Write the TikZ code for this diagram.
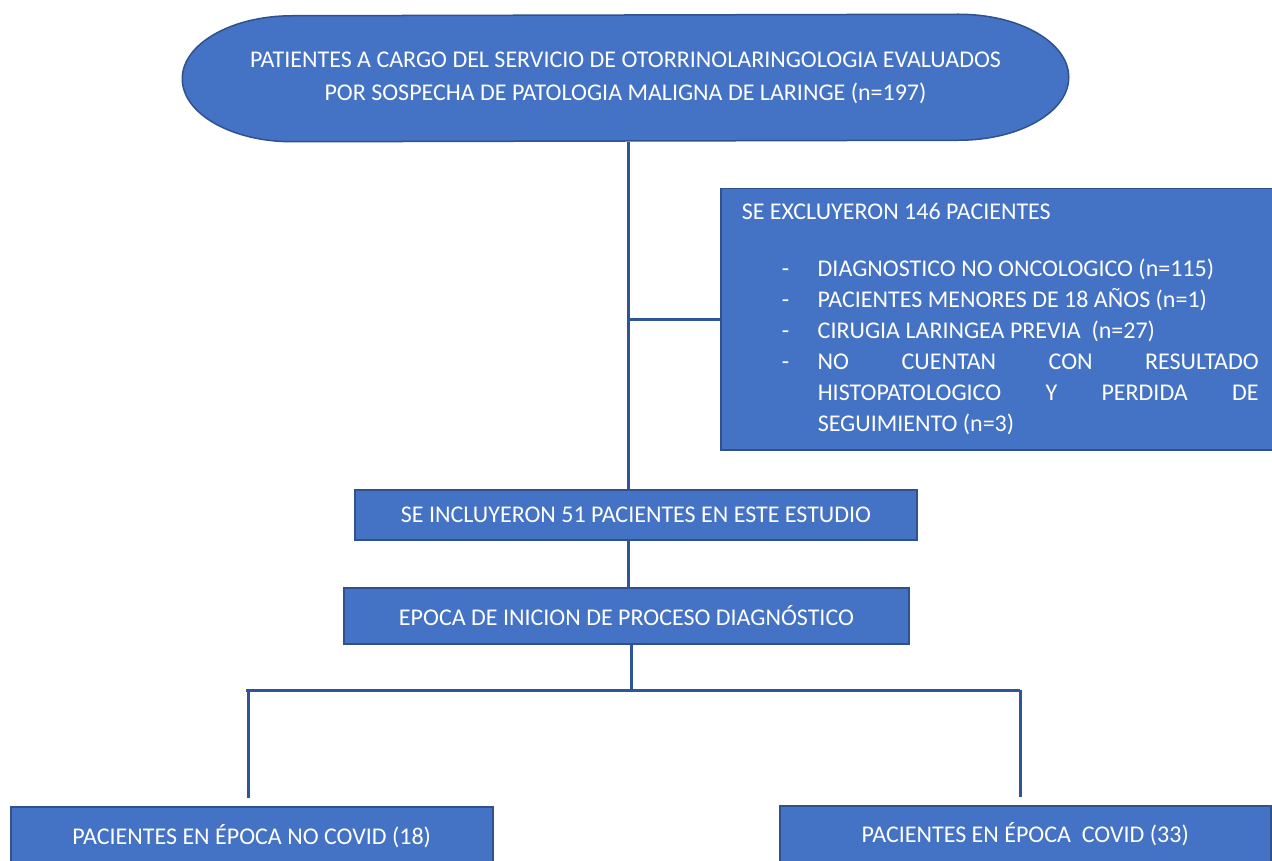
\documentclass[tikz,border=0pt]{standalone}
\usepackage{fontspec}
\setmainfont{Carlito}
\usetikzlibrary{positioning,backgrounds}

\definecolor{boxblue}{HTML}{4472C4}
\definecolor{boxline}{HTML}{2F528F}
\definecolor{linkblue}{HTML}{2F5597}

% one excluded reason, dash hanging in front
\newcommand\exitem[1]{\par\hangindent=76pt\hangafter=1\noindent\makebox[76pt][l]{\hspace{40pt}-}#1}

\begin{document}
\begin{tikzpicture}[x=1pt,y=-1pt,
  flow box/.style={rectangle,fill=boxblue,draw=boxline,line width=1.5pt,text=white,inner sep=0pt,
    font=\fontsize{24}{31}\selectfont},
  link/.style={draw=linkblue,line width=3pt}]
  \useasboundingbox (0,0) rectangle (1272,861);
  \clip (0,0) rectangle (1272,861);

  \node[flow box,draw=none,fill=none,minimum width=885pt,minimum height=126pt,align=center,
    font=\fontsize{24}{33}\selectfont] (start) at (625.5,78)
    {PATIENTES A CARGO DEL SERVICIO DE OTORRINOLARINGOLOGIA EVALUADOS\\
     POR SOSPECHA DE PATOLOGIA MALIGNA DE LARINGE (n=197)};
  \begin{scope}[on background layer]
    \path[fill=boxblue,draw=boxline,line width=1.5pt,line join=round]
      ([xshift=-110pt]start.north east)
      arc[start angle=90,end angle=-90,x radius=110pt,y radius=63pt]
      -- ([xshift=110pt]start.south west)
      arc[start angle=270,end angle=90,x radius=110pt,y radius=63pt] -- cycle;
  \end{scope}

  \node[flow box,minimum width=559pt,minimum height=261pt,text width=517pt,inner xsep=21pt,
    align=justify,anchor=north west] (excl) at (720,188)
    {SE EXCLUYERON 146 PACIENTES\par\vspace{26pt}
     \exitem{DIAGNOSTICO NO ONCOLOGICO (n=115)}
     \exitem{PACIENTES MENORES DE 18 AÑOS (n=1)}
     \exitem{CIRUGIA LARINGEA PREVIA~ (n=27)}
     \exitem{NO CUENTAN CON RESULTADO\linebreak HISTOPATOLOGICO Y PERDIDA DE\linebreak SEGUIMIENTO (n=3)}\par};

  \node[flow box,minimum width=562pt,minimum height=50pt] (incl) at (636,515)
    {SE INCLUYERON 51 PACIENTES EN ESTE ESTUDIO};
  \node[flow box,minimum width=565pt,minimum height=56pt] (epoca) at (626.5,616)
    {EPOCA DE INICION DE PROCESO DIAGNÓSTICO};

  \node[flow box,anchor=north west,minimum width=482pt,minimum height=58pt] (nocovid) at (10,806)
    {PACIENTES EN ÉPOCA NO COVID (18)};
  \node[flow box,anchor=north west,minimum width=491pt,minimum height=57pt] (covid) at (779,805)
    {PACIENTES EN ÉPOCA~ COVID (33)};

  \coordinate (trunk) at (628,0);
  \coordinate (split) at (631,690);
  \coordinate (lefttop) at (248,690);
  \coordinate (righttop) at (1020,690);

  \draw[link] (start.south -| trunk) -- (incl.north -| trunk);
  \draw[link] (trunk |- excl.west) -- (excl.west);
  \draw[link] (incl.south -| trunk) -- (epoca.north -| trunk);
  \draw[link] (epoca.south -| split) -- (split);
  \draw[link] ([xshift=-2pt]lefttop) -- (righttop);
  \draw[link,shorten >=8pt] (lefttop) -- (nocovid.north -| lefttop);
  \draw[link,shorten >=8pt] (righttop) -- (covid.north -| righttop);
\end{tikzpicture}
\end{document}
